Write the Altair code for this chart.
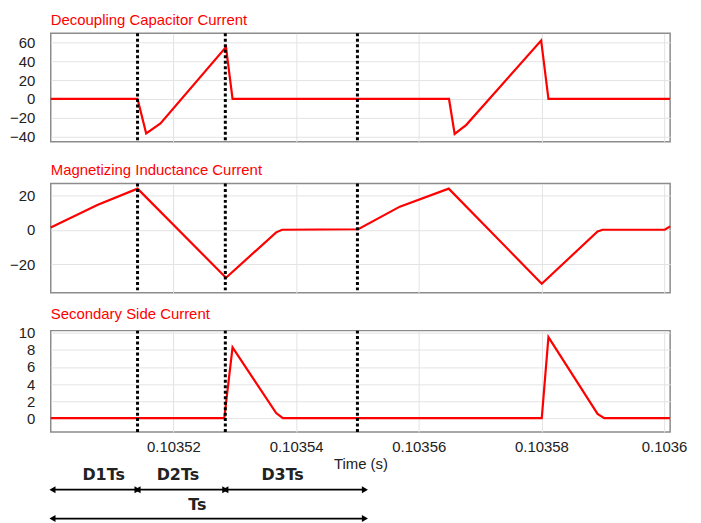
import altair as alt
import pandas as pd

# ---- data (time in seconds) ----
t_cap = [0.1035, 0.10351415, 0.10351556, 0.10351789, 0.10352857, 0.10352964,
         0.10356493, 0.10356585, 0.10356775, 0.10357995, 0.10358114, 0.10360098]
i_cap = [0, 0, -36.5, -26, 55, 0,
         0, -37, -27.4, 62, 0, 0]

t_mag = [0.1035, 0.10350759, 0.10351415, 0.10352857, 0.10353675, 0.10353772,
         0.10355013, 0.10355691, 0.10356488, 0.10358005, 0.10358915, 0.10358997,
         0.10360011, 0.10360098]
i_mag = [1.3, 14.5, 24, -28, -1.5, 0,
         0.3, 13.5, 24, -31.5, -1, 0,
         0, 2]

t_sec = [0.1035, 0.10352829, 0.10352964, 0.10353675, 0.10353784,
         0.10358005, 0.10358114, 0.10358915, 0.10359024, 0.10360098]
i_sec = [0, 0, 8.3, 0.6, 0,
         0, 9.5, 0.5, 0, 0]

t_div = [0.10351415, 0.10352846, 0.10355]

x_ticks = [0.10352, 0.10354, 0.10356, 0.10358, 0.1036]
x_domain = [0.1035, 0.10360098]

cap_ticks = [-40, -20, 0, 20, 40, 60]
mag_ticks = [-20, 0, 20]
sec_ticks = [0, 2, 4, 6, 8, 10]

seg_names = ["D1Ts", "D2Ts", "D3Ts"]
seg_start = [0.10350028, 0.10351415, 0.10352846]
seg_end = [0.10351415, 0.10352846, 0.10355122]
seg_label_t = [0.10350862, 0.10352073, 0.1035378]

period_name = ["Ts"]
period_start = [0.10350028]
period_end = [0.10355122]
period_label_t = [0.1035239]

FONT = "Liberation Sans"
W = 623


def make_x(bottom):
    if bottom:
        ax = alt.Axis(values=x_ticks, format=".5~f", title="Time (s)", ticks=False,
                      domain=False, grid=True, labelPadding=8, titlePadding=2)
    else:
        ax = alt.Axis(values=x_ticks, labels=False, ticks=False, domain=False,
                      title=None, grid=True)
    return alt.X("t:Q", scale=alt.Scale(domain=x_domain, nice=False, zero=False), axis=ax)


def panel(title, t, v, ydom, yticks, h, bottom=False, extra=None):
    x = make_x(bottom)
    y = alt.Y("v:Q", scale=alt.Scale(domain=ydom, nice=False, zero=False),
              axis=alt.Axis(values=yticks, title=None, ticks=False, domain=False,
                            labelPadding=16, minExtent=38, maxExtent=38))
    line = alt.Chart(pd.DataFrame({"t": t, "v": v})).mark_line(
        color="#ff0000", strokeWidth=2.2).encode(x=x, y=y)
    div = alt.Chart(pd.DataFrame({"t": t_div})).mark_rule(
        color="black", strokeWidth=3, strokeDash=[3, 2.5]).encode(x=x)
    layers = [line, div]
    if extra:
        layers += extra(x)
    return alt.layer(*layers).properties(
        width=W, height=h,
        title=alt.TitleParams(title, anchor="start", frame="group", color="#ff0000",
                              fontSize=15, font=FONT, fontWeight="normal", offset=4))


def annotations(x):
    seg_df = pd.DataFrame({"t": seg_start, "t2": seg_end, "name": seg_names, "lt": seg_label_t})
    per_df = pd.DataFrame({"t": period_start, "t2": period_end, "name": period_name, "lt": period_label_t})
    out = []
    for df, y_lab, y_arr in [(seg_df, 145, 160), (per_df, 175, 189)]:
        rule = alt.Chart(df).mark_rule(color="black", strokeWidth=1.8).encode(
            x=x, x2=alt.X2("t2:Q"), y=alt.value(y_arr))
        heads = pd.DataFrame({
            "t": list(df["t"]) + list(df["t2"]),
            "dir": ["left"] * len(df) + ["right"] * len(df),
        })
        pts = alt.Chart(heads).mark_point(filled=True, color="black", opacity=1, size=50).encode(
            x=x, y=alt.value(y_arr),
            shape=alt.Shape("dir:N", scale=alt.Scale(domain=["left", "right"],
                                                      range=["triangle-left", "triangle-right"]),
                            legend=None))
        txt = alt.Chart(df.assign(t=df["lt"])).mark_text(
            font="DejaVu Sans", fontWeight="bold", fontSize=16, color="#222",
            baseline="middle", align="center").encode(x=x, y=alt.value(y_lab), text="name:N")
        out += [rule, pts, txt]
    return out


p1 = panel("Decoupling Capacitor Current", t_cap, i_cap, [-45.3, 69.5], cap_ticks, 109)
p2 = panel("Magnetizing Inductance Current", t_mag, i_mag, [-36.8, 27], mag_ticks, 110)
p3 = panel("Secondary Side Current", t_sec, i_sec, [-1.63, 10.27], sec_ticks, 102,
           bottom=True, extra=annotations)

chart = alt.vconcat(alt.vconcat(p1, p2, spacing=16), p3, spacing=10).properties(
    padding={"left": 0, "top": 2, "right": 5, "bottom": 0}
).configure_view(
    stroke="#8c8c8c", strokeWidth=1.5
).configure_axis(
    gridColor="#e3e3e3", gridWidth=1,
    labelFont=FONT, labelFontSize=15, labelColor="#222",
    titleFont=FONT, titleFontSize=15, titleFontWeight="normal", titleColor="#222"
)

chart.save("out.html", embed_options={"renderer": "svg", "actions": False})
